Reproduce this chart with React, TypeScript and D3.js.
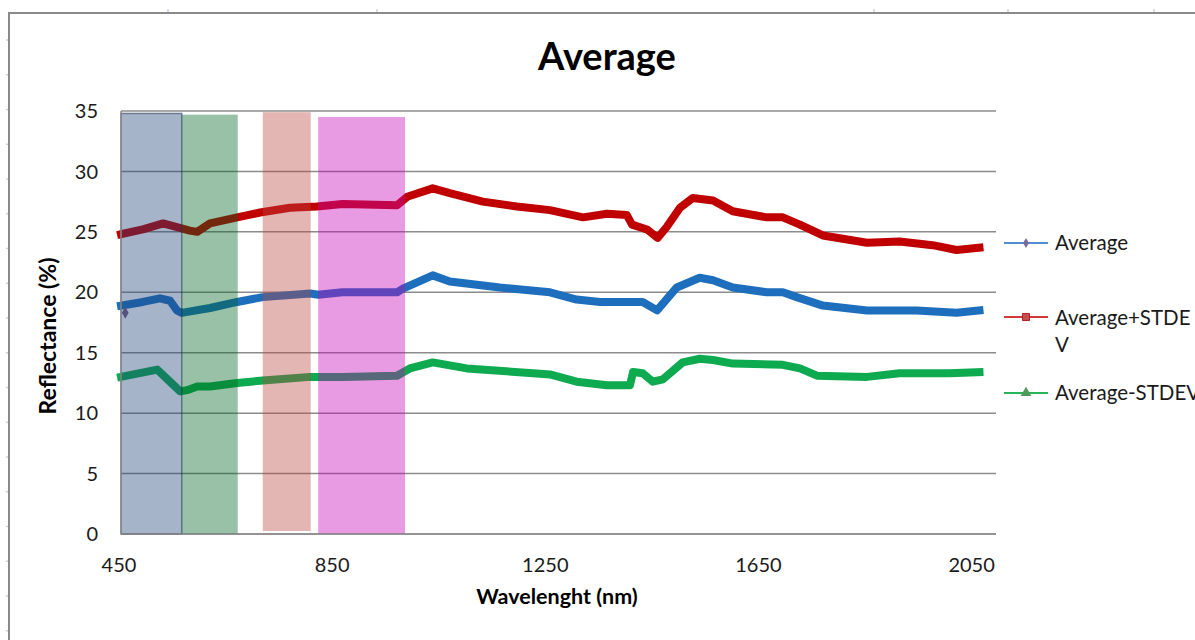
import React from "react";
import * as d3 from "d3";

// Axis ticks
const X_TICKS = [450, 850, 1250, 1650, 2050];
const Y_TICKS = [0, 5, 10, 15, 20, 25, 30, 35];

// Reflectance spectra: [wavelength nm, reflectance %]
const average: [number, number][] = [
  [450, 18.9], [491, 19.2], [523, 19.5], [542, 19.3], [555, 18.5], [564, 18.3],
  [617, 18.7], [668, 19.2], [716, 19.6], [805, 19.9], [820, 19.8], [866, 20.0],
  [968, 20.0], [979, 20.3], [1035, 21.4], [1067, 20.9], [1161, 20.4], [1255, 20.0],
  [1305, 19.4], [1349, 19.2], [1411, 19.2], [1429, 19.2], [1456, 18.5], [1493, 20.4],
  [1536, 21.2], [1561, 21.0], [1598, 20.4], [1662, 20.0], [1692, 20.0], [1718, 19.6],
  [1767, 18.9], [1850, 18.5], [1943, 18.5], [2018, 18.3], [2061, 18.5],
];

const averagePlusStdev: [number, number][] = [
  [450, 24.8], [491, 25.2], [529, 25.7], [555, 25.4], [579, 25.1], [593, 25.0],
  [617, 25.7], [668, 26.2], [711, 26.6], [767, 27.0], [818, 27.1], [866, 27.3],
  [968, 27.2], [987, 27.9], [1035, 28.6], [1067, 28.2], [1129, 27.5], [1193, 27.1],
  [1255, 26.8], [1317, 26.2], [1362, 26.5], [1399, 26.4], [1409, 25.6], [1437, 25.2],
  [1457, 24.5], [1474, 25.4], [1499, 27.0], [1523, 27.8], [1561, 27.6], [1598, 26.7],
  [1662, 26.2], [1692, 26.2], [1724, 25.6], [1767, 24.7], [1850, 24.1], [1911, 24.2],
  [1973, 23.9], [2018, 23.5], [2061, 23.7],
];

const averageMinusStdev: [number, number][] = [
  [450, 13.0], [518, 13.6], [542, 12.6], [561, 11.8], [574, 11.9], [593, 12.2],
  [617, 12.2], [668, 12.5], [716, 12.7], [805, 13.0], [866, 13.0], [968, 13.1],
  [992, 13.7], [1035, 14.2], [1099, 13.7], [1223, 13.3], [1255, 13.2], [1305, 12.6],
  [1362, 12.3], [1405, 12.3], [1411, 13.4], [1429, 13.3], [1448, 12.6], [1467, 12.8],
  [1504, 14.2], [1536, 14.5], [1561, 14.4], [1598, 14.1], [1692, 14.0], [1724, 13.7],
  [1756, 13.1], [1850, 13.0], [1911, 13.3], [2005, 13.3], [2061, 13.4],
];

// A lone low reading of the average series
const averageOutliers: [number, number][] = [[458, 18.3]];

// Highlighted spectral regions
const bandFrom = [450, 564, 716, 820];
const bandTo = [564, 669, 806, 983];
const bandTop = [34.8, 34.7, 34.9, 34.5];
const bandBottom = [0, 0, 0.25, 0];
const bandColors = ["#1F4479", "#006323", "#B94641", "#C605B9"];

const seriesNames = ["Average", "Average+STDEV", "Average-STDEV"];
const seriesData = [average, averagePlusStdev, averageMinusStdev];
const seriesColors = ["#1D6EBC", "#C00000", "#0DAA4F"];
const legendLineColors = ["#4F8FD0", "#D23A3A", "#26B45A"];
const legendMarkerColors = ["#7A6A9A", "#C0504D", "#4F9A5A"];

const W = 1195;
const H = 640;
const FONT = "Lato, 'Open Sans', sans-serif";

export default function App() {
  const left = 121, right = 996, top = 111, bottom = 534;
  const x = d3.scaleLinear().domain([450, 2092]).range([left, right]);
  const y = d3.scaleLinear().domain([0, 35]).range([bottom, top]);
  const line = d3.line<[number, number]>().x((d) => x(d[0])).y((d) => y(d[1])).curve(d3.curveLinear);

  const colMarks = [168, 377, 874, 1008, 1154];
  const rowMarks = d3.range(0, 18).map((k) => 40 + 34.75 * k);

  const symbols = [d3.symbolDiamond, d3.symbolSquare, d3.symbolTriangle];
  const legendY = [243, 317, 393];

  return (
    <svg width={W} height={H} style={{ position: "absolute", left: 0, top: 0, background: "#fff" }}>
      {/* sheet column / row marks */}
      {colMarks.map((cx, i) => (
        <line key={"c" + i} x1={cx} x2={cx} y1={9} y2={13} stroke="#C9D0E2" strokeWidth={1.5} />
      ))}
      {rowMarks.map((ry, i) => (
        <line key={"r" + i} x1={6} x2={9} y1={ry} y2={ry} stroke="#C9D0E2" strokeWidth={1.5} />
      ))}
      {/* chart frame */}
      <rect x={9} y={13} width={1220} height={700} fill="#fff" stroke="#8A8A8A" strokeWidth={2} />

      <text x={607} y={70} textAnchor="middle" fontFamily={FONT} fontWeight={700} fontSize={38} fill="#000">
        Average
      </text>

      {/* gridlines */}
      {Y_TICKS.map((t) => (
        <line key={"g" + t} x1={left} x2={right} y1={y(t)} y2={y(t)} stroke="#8C8C8C" strokeWidth={1.5} />
      ))}

      {/* series */}
      {seriesData.map((d, i) => (
        <path key={"s" + i} d={line(d) || ""} fill="none" stroke={seriesColors[i]} strokeWidth={8}
          strokeLinejoin="round" strokeLinecap="square" />
      ))}
      {averageOutliers.map((p, i) => (
        <path key={"o" + i} transform={`translate(${x(p[0])},${y(p[1])})`}
          d={d3.symbol().type(d3.symbolDiamond).size(40)() || ""} fill="#7A5A8A" />
      ))}

      {/* highlighted regions */}
      {bandFrom.map((f, i) => (
        <rect key={"b" + i} x={x(f)} y={y(bandTop[i])} width={x(bandTo[i]) - x(f)}
          height={y(bandBottom[i]) - y(bandTop[i])} fill={bandColors[i]} fillOpacity={0.4}
          stroke={i === 0 ? "#1F3050" : "none"} strokeOpacity={0.55} strokeWidth={1.5} />
      ))}

      {/* axes */}
      <line x1={left} x2={left} y1={top} y2={bottom} stroke="#8C8C8C" strokeWidth={1.5} />
      <line x1={left} x2={right} y1={bottom} y2={bottom} stroke="#8C8C8C" strokeWidth={1.5} />

      {Y_TICKS.map((t) => (
        <text key={"yl" + t} x={98} y={y(t)} dy="0.36em" textAnchor="end" fontFamily={FONT} fontSize={20} fill="#1a1a1a">
          {t}
        </text>
      ))}
      {X_TICKS.map((t) => (
        <text key={"xl" + t} x={x(t) - 2} y={572} textAnchor="middle" fontFamily={FONT} fontSize={20} fill="#1a1a1a">
          {t}
        </text>
      ))}

      <text x={557} y={604} textAnchor="middle" fontFamily={FONT} fontWeight={700} fontSize={21.5} fill="#000">
        Wavelenght (nm)
      </text>
      <text transform="translate(56,336) rotate(-90)" textAnchor="middle" fontFamily={FONT} fontWeight={700} fontSize={23} fill="#000">
        Reflectance (%)
      </text>

      {/* legend */}
      {seriesNames.map((n, i) => (
        <g key={"l" + i}>
          <line x1={1004} x2={1048} y1={legendY[i]} y2={legendY[i]} stroke={legendLineColors[i]} strokeWidth={2} />
          <path transform={`translate(1026,${legendY[i]})`}
            d={d3.symbol().type(symbols[i]).size(i === 0 ? 30 : 50)() || ""}
            fill={legendMarkerColors[i]} stroke={i === 1 ? "#B22222" : "none"} strokeWidth={1} />
        </g>
      ))}
      <text x={1055} y={250} fontFamily={FONT} fontSize={20.5} fill="#1a1a1a">Average</text>
      <text x={1055} y={325} fontFamily={FONT} fontSize={20.5} fill="#1a1a1a">Average+STDE</text>
      <text x={1055} y={352} fontFamily={FONT} fontSize={20.5} fill="#1a1a1a">V</text>
      <text x={1055} y={400} fontFamily={FONT} fontSize={20.5} fill="#1a1a1a">Average-STDEV</text>
    </svg>
  );
}
